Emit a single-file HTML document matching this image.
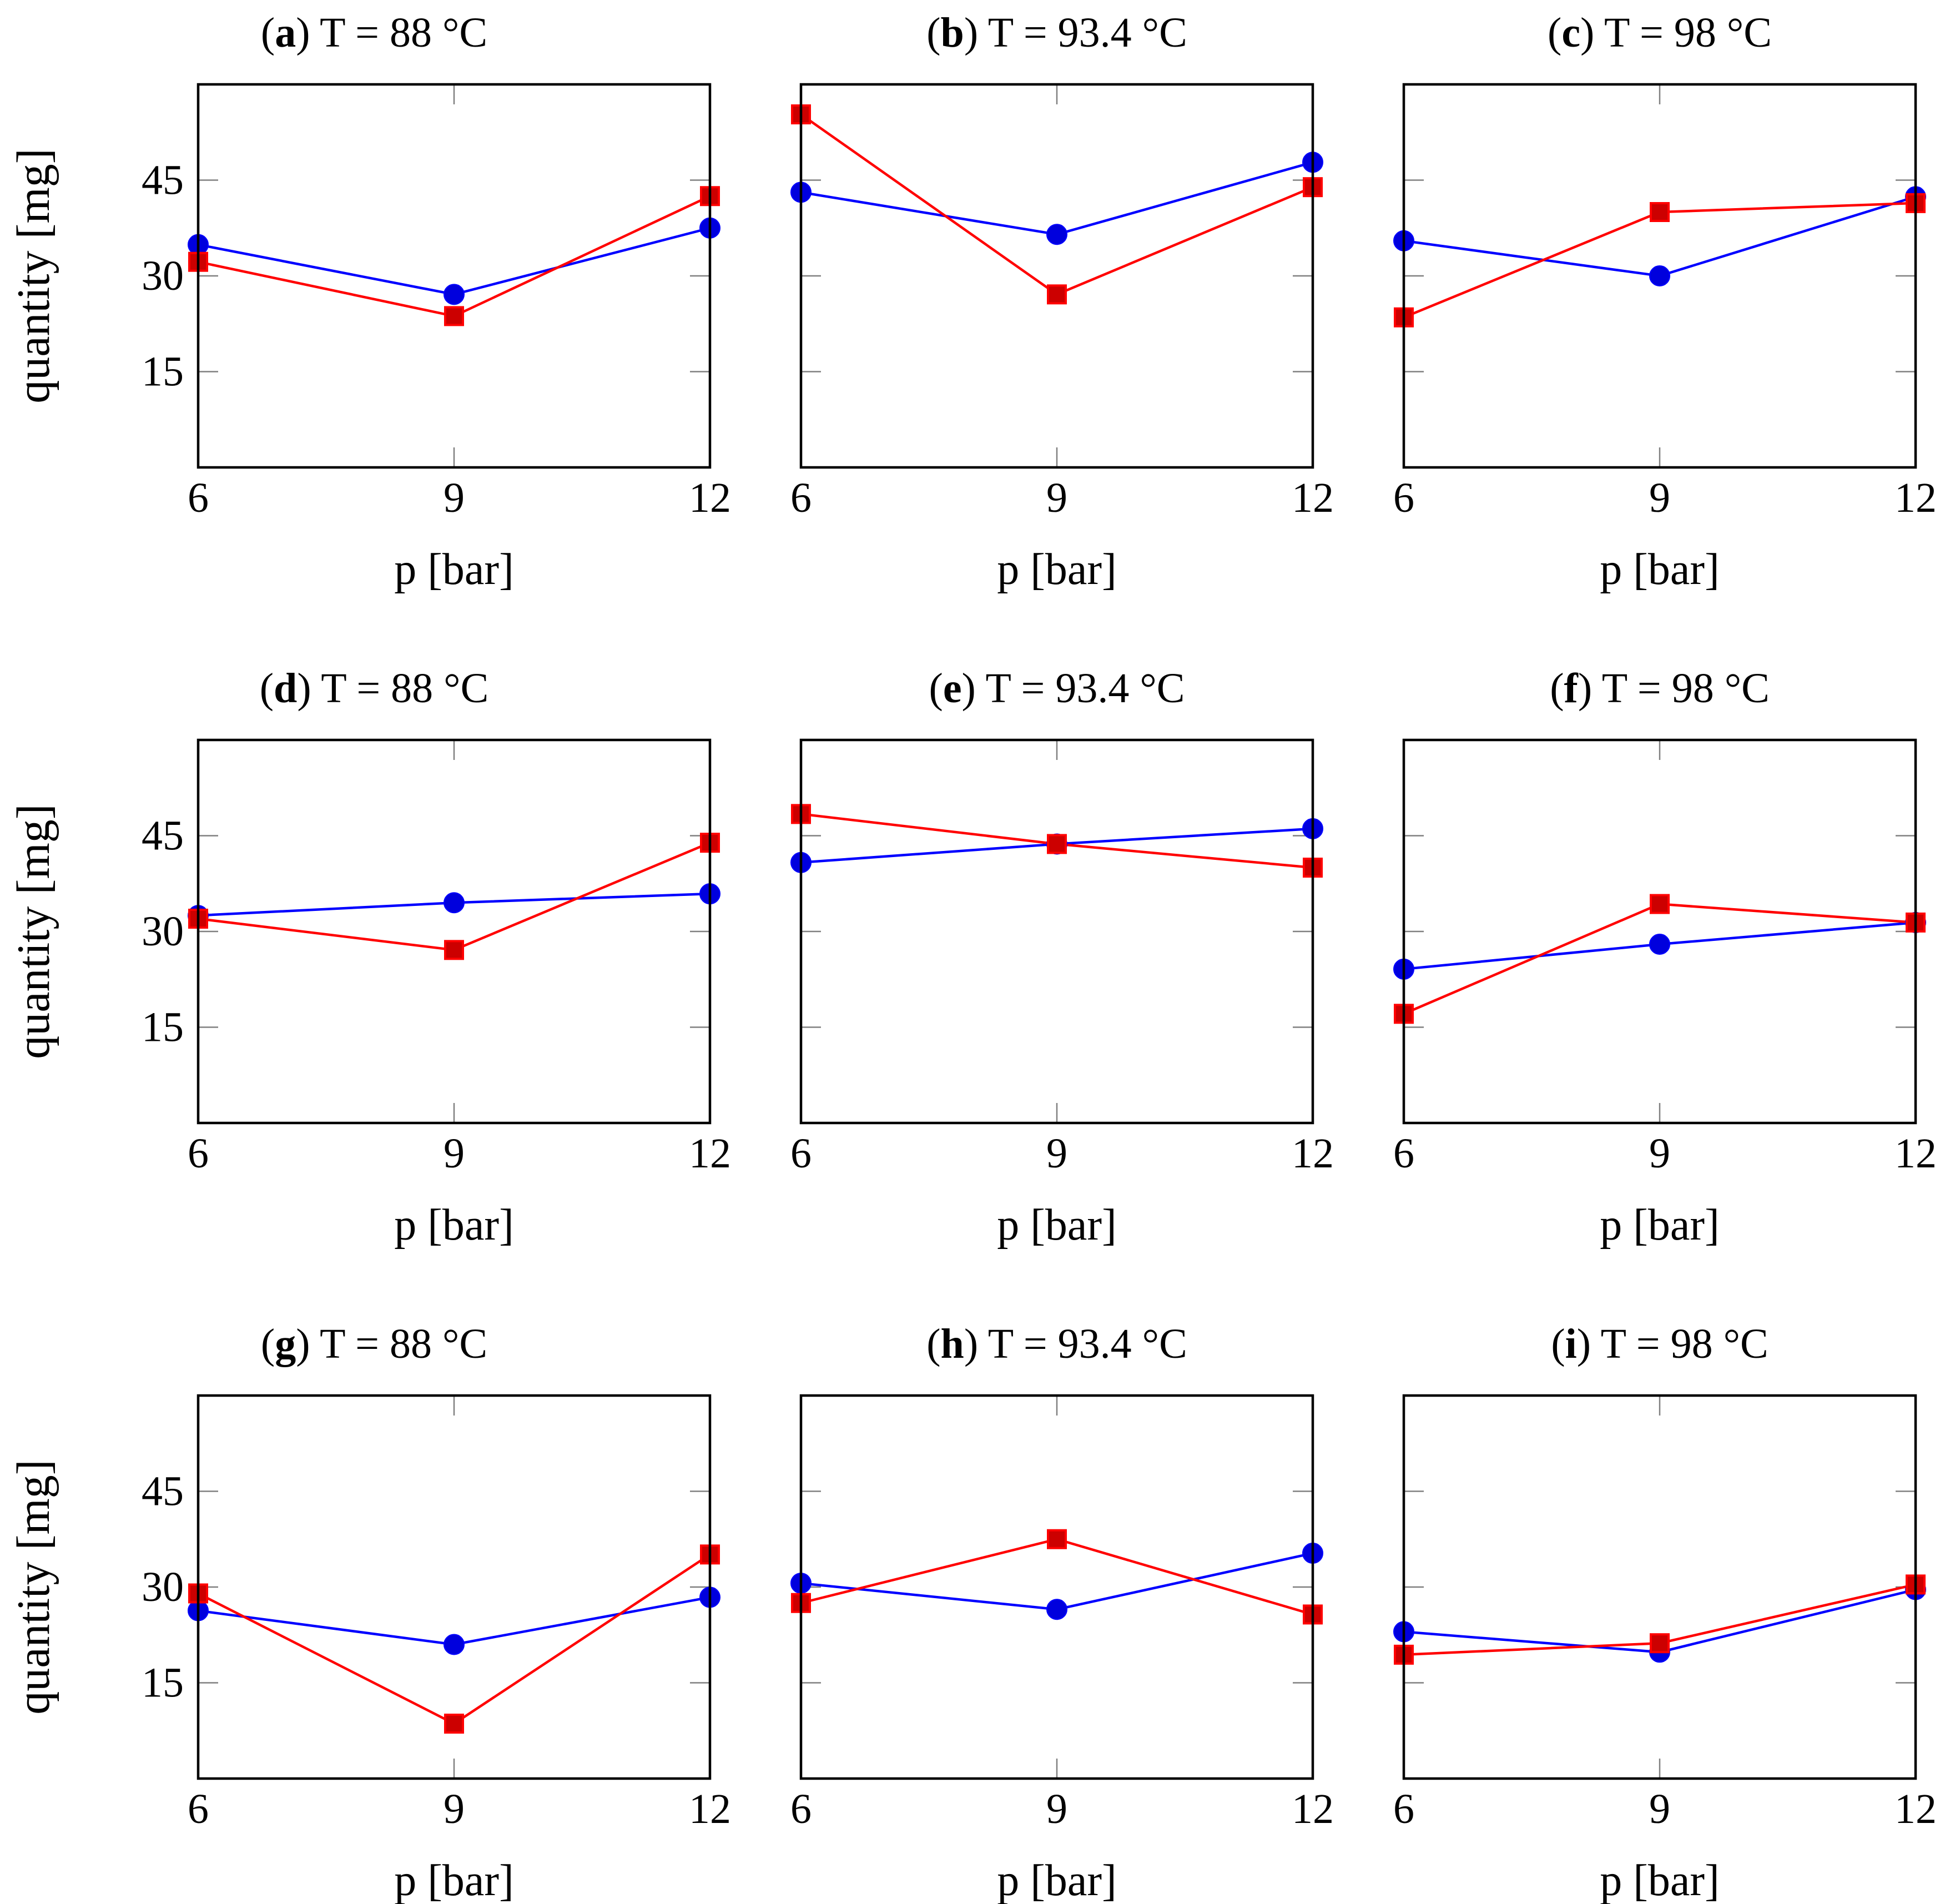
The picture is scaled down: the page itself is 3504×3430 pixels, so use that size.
<!DOCTYPE html>
<html><head><meta charset="utf-8"><style>
html,body{margin:0;padding:0;background:#fff;}
svg{display:block;font-family:"Liberation Serif",serif;}
</style></head><body>
<svg id="chart" width="3504" height="3430" viewBox="0 0 3504 3430" xmlns="http://www.w3.org/2000/svg"></svg>
<script>
const panelLetters = ['a','b','c','d','e','f','g','h','i'];
const panelTemps = ['88','93.4','98','88','93.4','98','88','93.4','98'];
const pressures = [6, 9, 12];
const yTicks = [15, 30, 45];
const blueSeries = [
  [34.9, 27.1, 37.5], [43.1, 36.5, 47.8], [35.5, 30.0, 42.4],
  [32.5, 34.5, 35.9], [40.8, 43.7, 46.1], [24.1, 28.0, 31.4],
  [26.3, 21.0, 28.4], [30.6, 26.5, 35.3], [23.0, 19.8, 29.6]
];
const redSeries = [
  [32.2, 23.7, 42.5], [55.3, 27.1, 43.9], [23.5, 40.0, 41.4],
  [32.0, 27.1, 43.9], [48.4, 43.7, 40.0], [17.1, 34.3, 31.4],
  [29.0, 8.6, 35.1], [27.5, 37.5, 25.7], [19.4, 21.2, 30.4]
];

const NS = 'http://www.w3.org/2000/svg';
const svg = document.getElementById('chart');
const colX = [357, 1443, 2529], rowY = [152, 1333, 2514];
const W = 922, H = 690, yMin = 0, yMax = 60, xMin = 6, xMax = 12;

function mk(tag, attrs, parent) {
  const e = document.createElementNS(NS, tag);
  for (const k in attrs) e.setAttribute(k, attrs[k]);
  parent.appendChild(e);
  return e;
}

for (let i = 0; i < 9; i++) {
  const x0 = colX[i % 3], y0 = rowY[Math.floor(i / 3)];
  const sx = v => x0 + (v - xMin) / (xMax - xMin) * W;
  const sy = v => y0 + H - (v - yMin) / (yMax - yMin) * H;
  const g = mk('g', {}, svg);
  
  

  const tcx = (i % 3 === 0) ? 674 : x0 + W / 2;
  const t = mk('text', {x: tcx, y: y0 - 68, 'text-anchor': 'middle', 'font-size': 76, fill: '#000'}, g);
  
  
  t.innerHTML = '(<tspan font-weight="bold">' + panelLetters[i] + '</tspan>) T = ' + panelTemps[i] + ' °C';

  yTicks.forEach(v => {
    const tl = mk('line', {x1: x0, x2: x0 + 36, y1: sy(v), y2: sy(v), stroke: '#808080', 'stroke-width': 2.5}, g);
    
    
    const tr = mk('line', {x1: x0 + W - 36, x2: x0 + W, y1: sy(v), y2: sy(v), stroke: '#808080', 'stroke-width': 2.5}, g);
    
    
    if (i % 3 === 0) {
      const lb = mk('text', {x: x0 - 26, y: sy(v) + 25, 'text-anchor': 'end', 'font-size': 76}, g);
      
      
      lb.textContent = v;
    }
  });
  const xt1 = mk('line', {x1: sx(9), x2: sx(9), y1: y0, y2: y0 + 36, stroke: '#808080', 'stroke-width': 2.5}, g);
  
  
  const xt2 = mk('line', {x1: sx(9), x2: sx(9), y1: y0 + H - 36, y2: y0 + H, stroke: '#808080', 'stroke-width': 2.5}, g);
  
  
  pressures.forEach(p => {
    const lb = mk('text', {x: sx(p), y: y0 + H + 80, 'text-anchor': 'middle', 'font-size': 76}, g);
    
    
    lb.textContent = p;
  });
  const xl = mk('text', {x: x0 + W / 2, y: y0 + H + 210, 'text-anchor': 'middle', 'font-size': 80}, g);
  
  
  xl.textContent = 'p [bar]';
  if (i % 3 === 0) {
    const cy = y0 + H / 2;
    const yl = mk('text', {x: 0, y: 0, 'text-anchor': 'middle', 'font-size': 84, transform: 'translate(88,' + cy + ') rotate(-90)'}, g);
    
    
    yl.textContent = 'quantity [mg]';
  }

  const bp = pressures.map((p, k) => sx(p) + ',' + sy(blueSeries[i][k])).join(' ');
  const bl = mk('polyline', {points: bp, fill: 'none', stroke: '#0000ff', 'stroke-width': 4.5}, g);
  
  
  const rp = pressures.map((p, k) => sx(p) + ',' + sy(redSeries[i][k])).join(' ');
  const rl = mk('polyline', {points: rp, fill: 'none', stroke: '#ff0000', 'stroke-width': 4.5}, g);
  
  
  pressures.forEach((p, k) => {
    const c = mk('circle', {cx: sx(p), cy: sy(blueSeries[i][k]), r: 18, fill: '#0000dd', stroke: '#0000ff', 'stroke-width': 2}, g);
    
    
  });
  pressures.forEach((p, k) => {
    const s = mk('rect', {x: sx(p) - 16, y: sy(redSeries[i][k]) - 16, width: 32, height: 32, fill: '#cc0000', stroke: '#ff0000', 'stroke-width': 4}, g);
    
    
  });

  const f = mk('rect', {x: x0, y: y0, width: W, height: H, fill: 'none', stroke: '#000', 'stroke-width': 4.5}, g);
  
  
}
</script>
</body></html>
